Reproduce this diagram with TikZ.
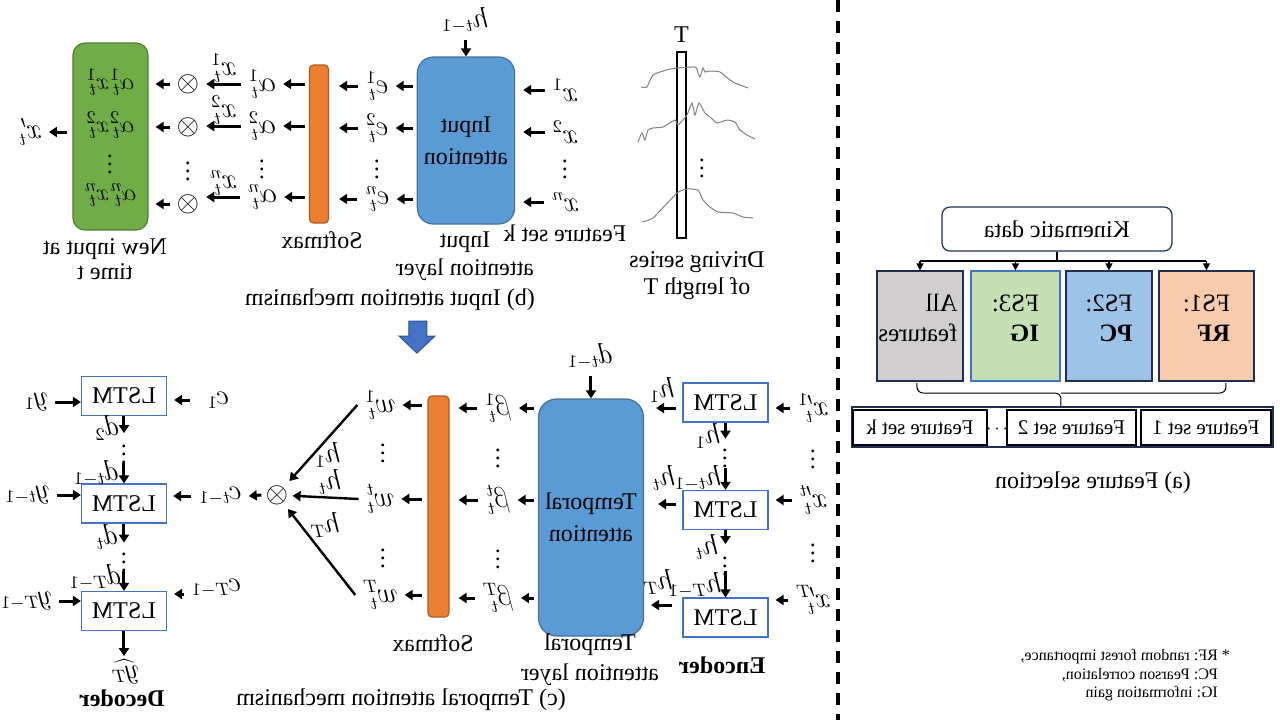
\documentclass[tikz,border=0pt]{standalone}
\usepackage{fontspec}
\setmainfont{Liberation Serif}
\usetikzlibrary{arrows.meta,positioning}

\definecolor{attblue}{HTML}{5B9BD5}
\definecolor{attline}{HTML}{41719C}
\definecolor{smorange}{HTML}{ED7D31}
\definecolor{smline}{HTML}{AE5A21}
\definecolor{newgreen}{HTML}{70AD47}
\definecolor{newline}{HTML}{507E32}
\definecolor{lstmline}{HTML}{4472C4}
\definecolor{arrline}{HTML}{2F528F}
\definecolor{navy}{HTML}{1F2F4F}
\definecolor{fsorange}{HTML}{F8CBAD}
\definecolor{fsblue}{HTML}{9DC3E6}
\definecolor{fsgreen}{HTML}{C5E0B4}
\definecolor{fsgray}{HTML}{D0CECE}
\definecolor{series}{HTML}{808080}

\tikzset{
	arr/.style={line width=1.5pt, -{Triangle[length=4pt,width=5pt]}},
	diag/.style={line width=1.2pt, -{Triangle[length=4pt,width=5pt]}},
	tarr/.style={line width=0.6pt, -{Triangle[length=3.5pt,width=3.5pt]}},
	ml/.style={font=\fontsize{13.5}{16}\selectfont},
	lstm/.style={draw=lstmline, line width=0.6pt, minimum width=42.5pt, minimum height=19.5pt, inner sep=0pt},
	att/.style={draw=attline, fill=attblue, line width=0.6pt, rounded corners=8pt, align=center, font=\fontsize{12}{16}\selectfont},
	smax/.style={draw=smline, fill=smorange, line width=0.6pt, rounded corners=2pt, minimum width=9.5pt, inner sep=0pt},
	fsbox/.style={draw=navy, line width=0.6pt, minimum height=55pt},
	fstext/.style={align=left, font=\fontsize{12.5}{15}\selectfont},
	setbox/.style={draw, line width=1pt, minimum height=17.5pt, inner sep=0pt, font=\fontsize{10.5}{12}\selectfont},
	twoline/.style={align=center, font=\fontsize{12}{#1}\selectfont},
}

\begin{document}
\begin{tikzpicture}[xscale=-1, x=0.5pt, y=-0.5pt,
		every node/.style={transform shape, font=\fontsize{12}{14}\selectfont}]
	\useasboundingbox (0,0) rectangle (1280,720);

	% (a) feature selection
	\node[draw=navy, line width=0.6pt, rounded corners=4pt, minimum width=115pt, minimum height=22pt] (kin) at (223,229) {Kinematic data};
	\node[fsbox, fill=fsorange, minimum width=47.5pt] (fs1) at (73.5,326) {};
	\node[fsbox, fill=fsblue, minimum width=43pt] (fs2) at (171,326) {};
	\node[fsbox, fill=fsgreen, draw=lstmline, minimum width=44.5pt] (fs3) at (264.5,326) {};
	\node[fsbox, fill=fsgray, minimum width=43pt] (all) at (360,326) {};
	\node[fstext] (fs1t) at (73.5,318) {FS1:\\\textbf{RF}};
	\node[fstext] (fs2t) at (171,318) {FS2:\\\textbf{PC}};
	\node[fstext] (fs3t) at (264.5,318) {FS3:\\\textbf{IG}};
	\node[fstext] (allt) at (362,318) {All\\features};
	\draw[line width=0.6pt] (kin.south) -- (kin.south |- 0,261);
	\draw[line width=0.6pt] (fs1.north |- 0,261) -- (all.north |- 0,261);
	\foreach \b in {fs1,fs2,fs3,all}
		\draw[tarr] (\b.north |- 0,261) -- (\b.north);
	\draw[line width=0.5pt, rounded corners=3pt] (363,383) |- (219,393) -- (219,407);
	\draw[line width=0.5pt, rounded corners=3pt] (54,383) |- (219,393);
	\node[draw=navy, line width=0.6pt, minimum width=210.5pt, minimum height=20pt] (sets) at (217.5,427) {};
	\node[setbox, minimum width=65pt] (set1) at (74,427.5) {Feature set 1};
	\node[setbox, minimum width=64.5pt] (set2) at (208.5,427.5) {Feature set 2};
	\node[inner sep=0pt, font=\fontsize{9}{10}\selectfont] (setdots) at (283,429) {$\cdots$};
	\node[setbox, minimum width=67pt] (setk) at (360,427.5) {Feature set k};
	\node (capa) at (187,483) {(a) Feature selection};
	\node[anchor=west, align=left, font=\fontsize{8}{9.25}\selectfont] (note) at (43,675.5) {* RF: random forest importance,\\\hphantom{* }PC: Pearson correlation,\\\hphantom{* }IG: information gain};

	\draw[line width=2pt, dash pattern=on 6pt off 4.5pt] (442,0) -- (442,720);

	% (b) input attention
	\draw[line width=0.8pt] (594,52) rectangle (603,238);
	\node (T) at (598.5,35) {T};
	\draw[series, line width=0.5pt] plot[smooth, tension=0.3] coordinates {(639,87) (633,87) (627,75) (610,69) (585,67) (582,73) (580,77) (577,68) (575,72) (570,71) (560,72) (550,80) (545,83) (532,88)};
	\draw[series, line width=0.5pt] plot[smooth, tension=0.3] coordinates {(642,142) (638,133) (635,140) (632,130) (627,128) (617,127) (605,120) (602,125) (593,115) (588,103) (585,115) (581,103) (575,113) (570,117) (563,123) (553,120) (545,122) (540,130) (533,135) (525,139)};
	\draw[series, line width=0.5pt] plot[smooth, tension=0.3] coordinates {(638,222) (627,218) (603,193) (593,189) (582,190) (577,200) (570,207) (562,212) (547,213) (537,217) (527,218)};
	\node (serdots) at (578,162) {$\vdots$};
	\node[twoline=13.5] (serlab) at (583,276) {Driving series\\of length T};

	\node[att, minimum width=48pt, minimum height=83.5pt] (ia) at (814,140.5) {Input\\attention};
	\node[ml] (xin1) at (715,90) {$x^1$};
	\node[ml] (xin2) at (715,132) {$x^2$};
	\node (xind) at (715,163) {$\vdots$};
	\node[ml] (xinn) at (715,202) {$x^n$};
	\node (fsk) at (715,233) {Feature set k};
	\foreach \nd in {xin1,xin2,xinn}
		\draw[arr, shorten >=4pt] (\nd.east) -- (\nd.east -| ia.west);
	\node[ml] (ht1) at (815,20) {$h_{t-1}$};
	\draw[arr] (ia.north |- ht1.south) -- (ia.north);

	\node[smax, minimum height=79pt] (sm1) at (961,144) {};
	\node[ml] (e1) at (903,86) {$e_t^1$};
	\node[ml] (e2) at (903,128) {$e_t^2$};
	\node (ed) at (903,163) {$\vdots$};
	\node[ml] (en) at (903,199) {$e_t^n$};
	\foreach \nd in {e1,e2,en} {
		\draw[arr, shorten <=2pt] (ia.east |- \nd) -- (\nd.west);
		\draw[arr, shorten >=5pt] (\nd.east) -- (\nd.east -| sm1.west);
	}
	\node (smlab1) at (958,240) {Softmax};

	\node[draw=newline, fill=newgreen, line width=0.6pt, rounded corners=6pt, minimum width=37.5pt, minimum height=93.5pt] (nb) at (1169.5,136.5) {};
	\node[ml] (al1) at (1018,84) {$\alpha_t^1$};
	\node[ml] (al2) at (1018,126) {$\alpha_t^2$};
	\node (ald) at (1018,163) {$\vdots$};
	\node[ml] (aln) at (1018,197) {$\alpha_t^n$};
	\node[ml] (ot1) at (1092,84) {$\otimes$};
	\node[ml] (ot2) at (1092,127) {$\otimes$};
	\node (otd) at (1092,165) {$\vdots$};
	\node[ml] (otn) at (1092,204) {$\otimes$};
	\foreach \nd/\ot/\sup in {al1/ot1/1,al2/ot2/2,aln/otn/n} {
		\draw[arr, shorten <=2pt] (sm1.east |- \nd) -- (\nd.west);
		\draw[arr] (\nd.east) -- (\nd.east -| \ot.west) node[ml, midway, above=-3.5pt] (xa\sup) {$x_t^\sup$};
		\draw[arr, shorten >=3.5pt] (\ot.east) -- (\ot.east -| nb.west);
	}
	\node[font=\fontsize{13}{15}\selectfont] (nb1) at (1170,82) {$\alpha_t^1x_t^1$};
	\node[font=\fontsize{13}{15}\selectfont] (nb2) at (1170,125) {$\alpha_t^2x_t^2$};
	\node (nbd) at (1170,158) {$\vdots$};
	\node[font=\fontsize{13}{15}\selectfont] (nbn) at (1170,195) {$\alpha_t^nx_t^n$};
	\node[ml] (xo) at (1250,132) {$x'_t$};
	\draw[arr, shorten <=2.5pt] (nb.east |- xo) -- (xo.west);
	\node[twoline=12.5] (nblab) at (1175,259.5) {New input at\\time t};
	\node[twoline=14] (ialab) at (815,256) {Input\\attention layer};
	\node (capb) at (890,300) {(b) Input attention mechanism};

	\filldraw[fill=lstmline, draw=arrline, line width=0.5pt] (853,321) -- (871,321) -- (871,336) -- (881,336) -- (863,353) -- (845,336) -- (853,336) -- cycle;

	% (c) temporal attention
	\node[lstm] (enc1) at (554.5,402.5) {LSTM};
	\node[lstm] (enc2) at (554.5,510) {LSTM};
	\node[lstm] (enc3) at (554.5,617.5) {LSTM};
	\node[ml] (xe1) at (467,408) {$x_t^{\prime 1}$};
	\node (xed1) at (467,453) {$\vdots$};
	\node[ml] (xe2) at (467,500) {$x_t^{\prime t}$};
	\node (xed2) at (467,547) {$\vdots$};
	\node[ml] (xe3) at (467,600) {$x_t^{\prime T}$};
	\foreach \nd/\ls in {xe1/enc1,xe2/enc2,xe3/enc3}
		\draw[arr, shorten >=3.5pt] (\nd.east) -- (\nd.east -| \ls.west);
	\draw[arr] (enc1.south) -- ([yshift=-8pt]enc1.south);
	\node[ml] (eh1) at (572,436) {$h_1$};
	\node (ehd1) at (555,452) {$\vdots$};
	\draw[arr] ([yshift=11pt]enc2.north) -- (enc2.north);
	\node[ml] (eh2) at (582,478) {$h_{t-1}$};
	\draw[arr] (enc2.south) -- ([yshift=-7pt]enc2.south);
	\node[ml] (eh3) at (573,547) {$h_t$};
	\node (ehd2) at (555,560) {$\vdots$};
	\draw[arr] ([yshift=13pt]enc3.north) -- (enc3.north);
	\node[ml] (eh4) at (585,585) {$h_{T-1}$};
	\node[font=\fontsize{12}{14}\bfseries] (enclab) at (558,665) {Encoder};

	\node[att, minimum width=52pt, minimum height=118.5pt, rounded corners=9pt] (tatt) at (689,517.5) {Temporal\\attention};
	\draw[arr, shorten <=3pt, shorten >=6pt] (enc1.east |- 0,408) -- (tatt.west |- 0,408);
	\draw[arr, shorten <=3pt, shorten >=7pt] (enc2.east |- 0,504) -- (tatt.west |- 0,504);
	\draw[arr, shorten <=5pt, shorten >=3.5pt] (enc3.east |- 0,605) -- (tatt.west |- 0,605);
	\node[ml] (th1) at (618,390) {$h_1$};
	\node[ml] (th2) at (616,478) {$h_t$};
	\node[ml] (th3) at (622,582) {$h_T$};
	\node[ml] (dt1) at (690,356) {$d_{t-1}$};
	\draw[arr] (tatt.north |- dt1.south) -- (tatt.north);
	\node[twoline=15] (tattlab) at (690,660) {Temporal\\attention layer};

	\node[smax, minimum width=10.5pt, minimum height=110.5pt] (sm2) at (841.5,506.5) {};
	\node[ml] (b1) at (782,408) {$\beta_t^1$};
	\node (bd1) at (782,452) {$\vdots$};
	\node[ml] (b2) at (782,500) {$\beta_t^t$};
	\node (bd2) at (782,553) {$\vdots$};
	\node[ml] (b3) at (782,598) {$\beta_t^T$};
	\foreach \nd in {b1,b2,b3} {
		\draw[arr, shorten <=2pt] (tatt.east |- \nd) -- (\nd.west);
		\draw[arr, shorten >=4.5pt] (\nd.east) -- (\nd.east -| sm2.west);
	}
	\node (smlab2) at (847,643) {Softmax};

	\node[ml] (w1) at (900,405) {$w_t^1$};
	\node (wd1) at (897,447) {$\vdots$};
	\node[ml] (w2) at (900,499) {$w_t^t$};
	\node (wd2) at (897,552) {$\vdots$};
	\node[ml] (w3) at (900,595) {$w_t^T$};
	\foreach \nd in {w1,w2,w3}
		\draw[arr, shorten <=2.5pt] (sm2.east |- \nd) -- (\nd.west);
	\node[ml, inner sep=2pt] (otc) at (1003,495) {$\otimes$};
	\foreach \nd in {w1,w2,w3}
		\draw[diag] (\nd.east) -- (otc);
	\node[ml] (hw1) at (952,455) {$h_1$};
	\node[ml] (hw2) at (950,482) {$h_t$};
	\node[ml] (hw3) at (955,525) {$h_T$};
	\node (capc) at (879,700) {(c) Temporal attention mechanism};

	\node[lstm] (dec1) at (1156,396) {LSTM};
	\node[lstm] (dec2) at (1156,503.5) {LSTM};
	\node[lstm] (dec3) at (1156,611) {LSTM};
	\node[ml] (ctl) at (1060,496) {$c_{t-1}$};
	\draw[arr] (otc.east) -- (ctl.west);
	\draw[arr, shorten >=3pt] (ctl.east) -- (ctl.east -| dec2.west);
	\node[ml] (c1) at (1062,400) {$c_1$};
	\draw[arr, shorten <=5pt, shorten >=3.5pt] (c1.east) -- (c1.east -| dec1.west);
	\node[ml] (cT) at (1064,588) {$c_{T-1}$};
	\draw[arr, shorten >=3.5pt] (cT.east |- 0,594) -- (dec3.west |- 0,594);
	\node[ml] (y1) at (1244,402) {$y_1$};
	\node[ml] (y2) at (1253,495) {$y_{t-1}$};
	\node[ml] (y3) at (1254,601) {$y_{T-1}$};
	\foreach \nd/\ls in {y1/dec1,y2/dec2,y3/dec3}
		\draw[arr] (\nd.west) -- (\nd.west -| \ls.east);
	\draw[arr] (dec1.south) -- ([yshift=-8.5pt]dec1.south);
	\node[ml] (d2) at (1173,428) {$d_2$};
	\node (dd1) at (1156,448) {$\vdots$};
	\draw[arr] ([yshift=10pt]dec2.north) -- (dec2.north);
	\node[ml] (d3) at (1184,473) {$d_{t-1}$};
	\draw[arr] (dec2.south) -- ([yshift=-9.5pt]dec2.south);
	\node[ml] (d4) at (1173,537) {$d_t$};
	\node (dd2) at (1156,556) {$\vdots$};
	\draw[arr] ([yshift=10pt]dec3.north) -- (dec3.north);
	\node[ml] (d5) at (1185,577) {$d_{T-1}$};
	\draw[arr] (dec3.south) -- ([yshift=-12.5pt]dec3.south);
	\node[ml] (yhat) at (1155,672) {$\widehat{y_T}$};
	\node[font=\fontsize{12}{14}\bfseries] (declab) at (1158,698) {Decoder};
\end{tikzpicture}
\end{document}
